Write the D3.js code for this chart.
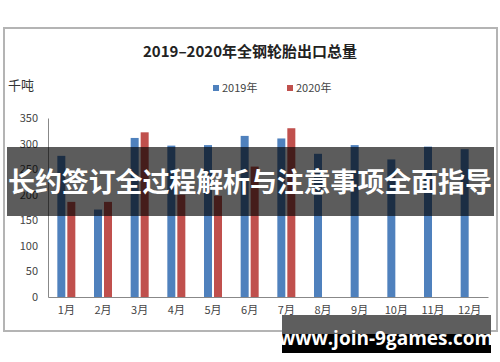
<!DOCTYPE html>
<html><head><meta charset="utf-8">
<script src="https://cdn.jsdelivr.net/npm/d3@7"></script>
<style>body{margin:0;background:#fff}svg{display:block}</style>
</head><body>
<script>
const months = ["1月","2月","3月","4月","5月","6月","7月","8月","9月","10月","11月","12月"];
const series = ["2019年","2020年"];
const values2019 = [276, 171, 311, 296, 297, 315, 310, 280, 297, 269, 294, 289];
const values2020 = [186, 186, 322, 200, 198, 255, 330, null, null, null, null, null];
const yTicks = [0, 50, 100, 150, 200, 250, 300, 350];
const colors = ["#4F81BD", "#C0504D"];
const title = "2019–2020年全钢轮胎出口总量";
const unit = "千吨";
const bannerText = "长约签订全过程解析与注意事项全面指导";
const watermark = "www.join-9games.com";

const W = 500, H = 362;
const font = "'Noto Sans CJK SC','Noto Sans',sans-serif";
const svg = d3.select("body").append("svg").attr("width", W).attr("height", H);

// frame
svg.append("rect").attr("x", 4).attr("y", 28).attr("width", 493).attr("height", 303)
  .attr("fill", "#fff").attr("stroke", "#b4b4b4").attr("stroke-width", 2);

const x = d3.scaleBand().domain(months).range([48, 488]).padding(0);
const bw = x.bandwidth();
const x1 = d3.scaleBand().domain(series).range([bw/2 - 9, bw/2 + 9]).paddingInner(0.2);
const y = d3.scaleLinear().domain([0, 350]).range([297, 118]);

// title
svg.append("text").attr("x", 250).attr("y", 57).attr("text-anchor", "middle")
  .attr("font-family", font).attr("font-weight", "bold").attr("font-size", 15)
  .attr("fill", "#222").text(title);

// unit
svg.append("text").attr("x", 8).attr("y", 90).attr("font-family", font)
  .attr("font-size", 13).attr("fill", "#333").text(unit);

// legend
const legX = [213, 287];
series.forEach((s, i) => {
  svg.append("rect").attr("x", legX[i]).attr("y", 85).attr("width", 6).attr("height", 6).attr("fill", colors[i]);
  svg.append("text").attr("x", legX[i] + 9).attr("y", 92).attr("font-family", font)
    .attr("font-size", 11).attr("fill", "#444").text(s);
});

// y axis
const yAxis = svg.append("g").attr("transform", "translate(48,0)")
  .call(d3.axisLeft(y).tickValues(yTicks).tickSize(0).tickPadding(10));
yAxis.select(".domain").attr("stroke", "#888");
yAxis.selectAll("text").attr("font-family", font).attr("font-size", 11).attr("fill", "#444");

// x axis
const xAxis = svg.append("g").attr("transform", "translate(0,297)")
  .call(d3.axisBottom(x).tickSize(0).tickPadding(9));
xAxis.select(".domain").attr("stroke", "#888");
xAxis.selectAll("text").attr("font-family", font).attr("font-size", 11).attr("fill", "#444");

// bars
const data = months.map((m, i) => ({m, vals: [values2019[i], values2020[i]]}));
const g = svg.append("g");
data.forEach(d => {
  d.vals.forEach((v, j) => {
    if (v == null) return;
    g.append("rect").attr("x", x(d.m) + x1(series[j])).attr("y", y(v))
      .attr("width", x1.bandwidth()).attr("height", y(0) - y(v)).attr("fill", colors[j]);
  });
});

// overlay banner
svg.append("rect").attr("x", 7).attr("y", 147).attr("width", 487).attr("height", 69)
  .attr("fill", "rgba(0,0,0,0.64)");
svg.append("text").attr("x", 250).attr("y", 192).attr("text-anchor", "middle")
  .attr("font-family", font).attr("font-weight", "bold").attr("font-size", 27)
  .attr("fill", "#fff").attr("textLength", 484).text(bannerText);

// watermark
svg.append("rect").attr("x", 282).attr("y", 315).attr("width", 209).attr("height", 19).attr("fill", "#5e5e5e");
svg.append("rect").attr("x", 282).attr("y", 334).attr("width", 209).attr("height", 19).attr("fill", "#000");
svg.append("text").attr("x", 386).attr("y", 345).attr("text-anchor", "middle")
  .attr("font-family", "'Open Sans','DejaVu Sans',sans-serif").attr("font-weight", "bold").attr("font-size", 19)
  .attr("fill", "#fff").text(watermark);
</script>
</body></html>
